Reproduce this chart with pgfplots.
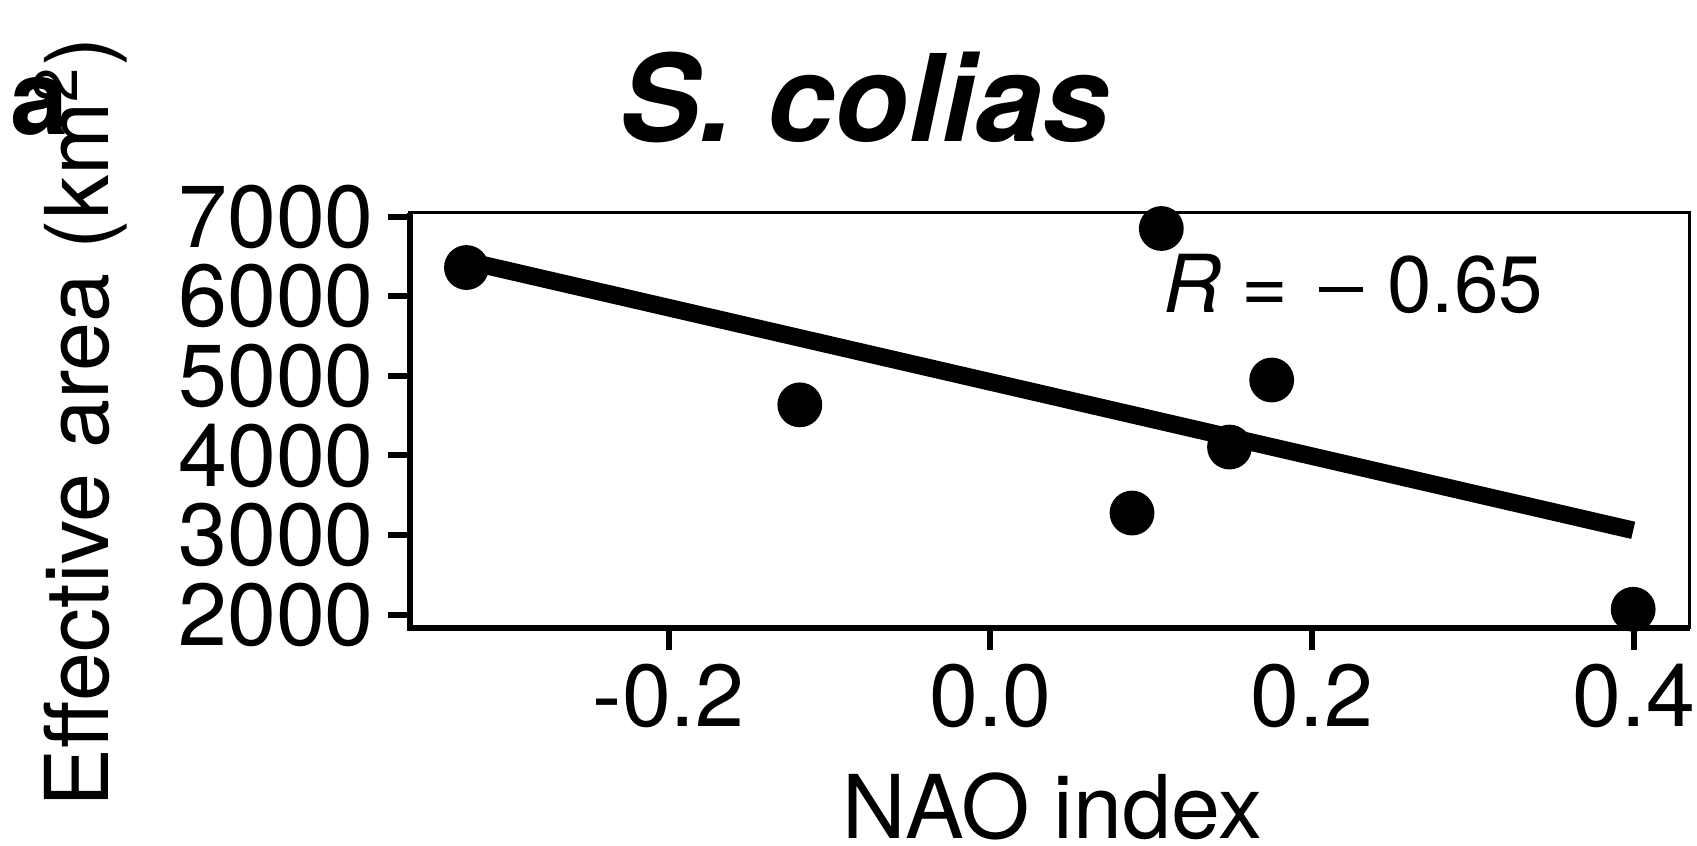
\documentclass[border=0pt]{standalone}
\usepackage{pgfplots}
\pgfplotsset{compat=1.18}
\usepackage{fontspec}
\setmainfont{TeX Gyre Heros}
\begin{document}
\begin{tikzpicture}
\useasboundingbox (0,0) rectangle (424.25pt,211.5pt);
\begin{axis}[
  at={(102.5pt,54.5pt)}, anchor=south west,
  scale only axis, width=320pt, height=103.75pt,
  xmin=-0.3607, xmax=0.4349, ymin=1833, ymax=7046,
  xtick={-0.2,0,0.2,0.4}, xticklabels={-0.2,0.0,0.2,0.4},
  ytick={2000,3000,4000,5000,6000,7000}, yticklabels={2000,3000,4000,5000,6000,7000},
  xtick pos=bottom, ytick pos=left, tick align=outside,
  major tick length=5.5pt,
  every tick/.style={black, line width=1.5pt},
  axis line style={black, line width=0.75pt},
  ticklabel style={font=\fontsize{22}{26}\selectfont},
  clip=false,
]
\addplot[black, line width=4.4pt] coordinates {(-0.3256,6443) (0.3996,3060)};
\addplot[only marks, mark=*, mark size=5.4pt, black] coordinates {
(-0.3256,6361) (-0.1184,4636) (0.0881,3277) (0.1063,6851) (0.1487,4106) (0.1749,4948) (0.3996,2068)};
\draw[line width=1.5pt] (rel axis cs:0,1) -- (rel axis cs:0,0) -- (rel axis cs:1,0);
\end{axis}
\node[anchor=base, inner sep=0, font=\fontsize{30.2}{36}\selectfont\bfseries\itshape] at (216.1pt,176pt) {S. colias};
\node[anchor=base west, inner sep=0, font=\fontsize{26}{30}\selectfont\bfseries] at (2.5pt,177.75pt) {a};
\node[rotate=90, anchor=base, inner sep=0, font=\fontsize{22}{26}\selectfont] at (27pt,106pt) {Effective area (km\textsuperscript{2})};
\node[anchor=base, inner sep=0, font=\fontsize{22}{26}\selectfont] at (263.1pt,1.9pt) {NAO index};
\node[anchor=base west, inner sep=0, font=\fontsize{20}{24}\selectfont] at (290.75pt,133.25pt) {\textit{R}\hspace{0.25em}=\hspace{0.38em}\rule[0.26em]{0.56em}{0.07em}\hspace{0.3em}0.65};
\end{tikzpicture}
\end{document}
